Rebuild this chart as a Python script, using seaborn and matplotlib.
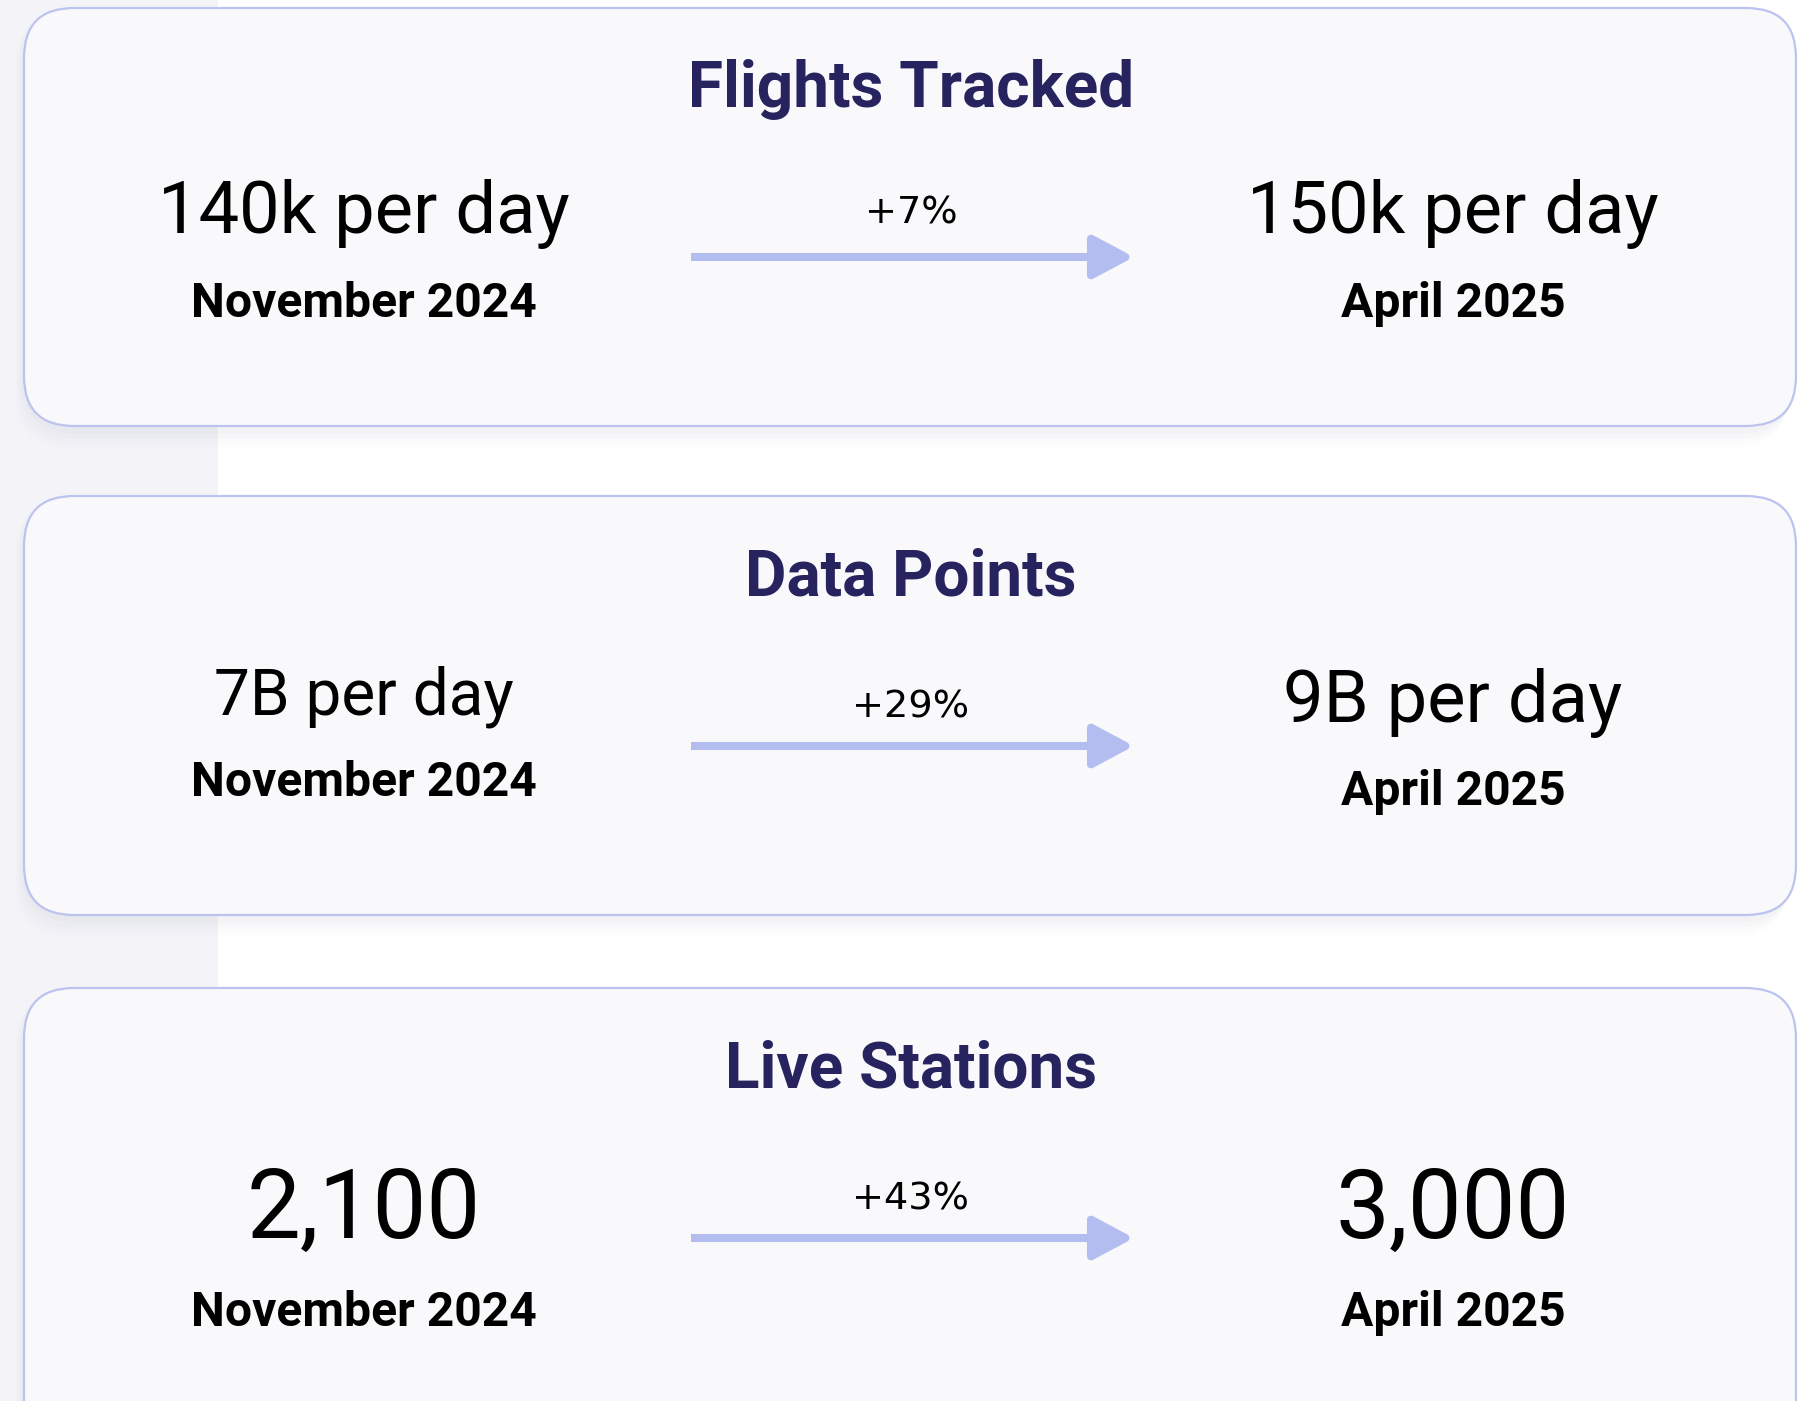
import matplotlib
matplotlib.use("Agg")
import matplotlib.pyplot as plt
from matplotlib.patches import FancyBboxPatch, Rectangle
import seaborn as sns

# Card contents
titles = ["Flights Tracked", "Data Points", "Live Stations"]
before_values = ["140k per day", "7B per day", "2,100"]
after_values = ["150k per day", "9B per day", "3,000"]
before_dates = ["November 2024", "November 2024", "November 2024"]
after_dates = ["April 2025", "April 2025", "April 2025"]
changes = ["+7%", "+29%", "+43%"]

sns.set_theme(style="white")
plt.rcParams['font.family'] = ['Roboto', 'DejaVu Sans']

W, H = 1797, 1401
fig = plt.figure(figsize=(W / 100, H / 100), dpi=100)
ax = fig.add_axes([0, 0, 1, 1])
ax.set_xlim(0, W)
ax.set_ylim(H, 0)
ax.axis("off")
fig.patch.set_facecolor("white")

title_color = "#27235f"
arrow_color = "#b3bdf0"
border_color = "#bcc3ee"
card_fill = "#f9f9fc"

# left pale strip behind the cards
ax.add_patch(Rectangle((0, 0), 218, H, facecolor="#f3f3f8", edgecolor="none", zorder=0))

# per-card layout (pixels): card top/bottom, baselines, value font sizes
card_tops = [8, 496, 988]
card_bottoms = [426, 915, 1460]
title_base = [107, 596, 1088]
left_val_base = [233, 714, 1238]
right_val_base = [233, 722, 1238]
left_date_base = [317, 796, 1326]
right_date_base = [317, 805, 1326]
pct_base = [224, 718, 1210]
arrow_y = [257, 746, 1238]
left_val_size = [52, 46, 69]
right_val_size = [52, 52, 69]

left_x, mid_x, right_x = 364, 911, 1453

for i in range(3):
    top, bot = card_tops[i], card_bottoms[i]
    # soft shadow
    for k, a in enumerate([0.016, 0.013, 0.010, 0.007]):
        pad = 6 + k * 8
        ax.add_patch(FancyBboxPatch((24 - pad * 0.3, top + 4), 1772, bot - top + pad * 0.6,
                                    boxstyle="round,pad=0,rounding_size=55",
                                    facecolor="#3a3a6a", edgecolor="none", alpha=a, zorder=1))
    ax.add_patch(FancyBboxPatch((24, top), 1772, bot - top,
                                boxstyle="round,pad=0,rounding_size=50",
                                facecolor=card_fill, edgecolor=border_color, lw=1.6, zorder=2))

    ax.text(mid_x, title_base[i], titles[i], ha="center", va="baseline",
            fontsize=46, fontweight="bold", color=title_color, zorder=3)
    ax.text(left_x, left_val_base[i], before_values[i], ha="center", va="baseline",
            fontsize=left_val_size[i], color="black", zorder=3)
    ax.text(right_x, right_val_base[i], after_values[i], ha="center", va="baseline",
            fontsize=right_val_size[i], color="black", zorder=3)
    ax.text(left_x, left_date_base[i], before_dates[i], ha="center", va="baseline",
            fontsize=34.6, fontweight="bold", color="black", zorder=3)
    ax.text(right_x, right_date_base[i], after_dates[i], ha="center", va="baseline",
            fontsize=34.6, fontweight="bold", color="black", zorder=3)
    ax.text(mid_x, pct_base[i], changes[i], ha="center", va="baseline",
            fontsize=27.5, family="DejaVu Sans", color="black", zorder=3)
    ax.annotate("", xy=(1134, arrow_y[i]), xytext=(691, arrow_y[i]),
                arrowprops=dict(arrowstyle="-|>,head_length=0.62,head_width=0.33",
                                mutation_scale=40, lw=5.8, color=arrow_color,
                                capstyle="butt", shrinkA=0, shrinkB=0), zorder=3)

fig.savefig("out.png", dpi=100)
